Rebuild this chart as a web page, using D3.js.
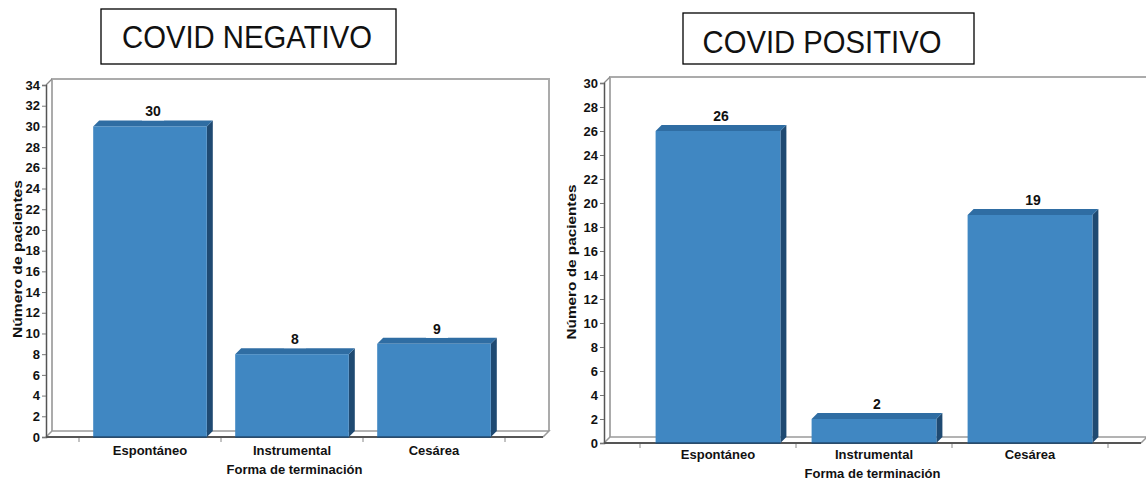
<!DOCTYPE html>
<html>
<head>
<meta charset="utf-8">
<script src="https://cdn.jsdelivr.net/npm/d3@7"></script>
<style>
  html, body { margin: 0; padding: 0; background: #fff; }
  svg { display: block; font-family: "Liberation Sans", Arial, sans-serif; }
</style>
</head>
<body>
<svg id="chart" width="1146" height="481"></svg>
<script>
// Delivery type by COVID status
const categories = ["Espontáneo", "Instrumental", "Cesárea"];
const negativeValues = [30, 8, 9];
const positiveValues = [26, 2, 19];
const negativeTickValues = d3.range(0, 35, 2);
const positiveTickValues = d3.range(0, 31, 2);
const negativeTitle = "COVID NEGATIVO";
const positiveTitle = "COVID POSITIVO";
const yAxisTitle = "Número de pacientes";
const xAxisTitle = "Forma de terminación";

const svg = d3.select("#chart");

const FRONT = "#4087c2", TOP = "#2f6da3", SIDE = "#1f4a72";
const DX = 6, DY = -6; // 3D depth offset

function titleBox(t) {
  const g = svg.append("g");
  g.append("rect")
    .attr("x", t.x).attr("y", t.y).attr("width", t.w).attr("height", t.h)
    .attr("fill", "#fff").attr("stroke", "#000").attr("stroke-width", 1.3);
  g.append("text")
    .attr("x", t.tx).attr("y", t.ty)
    .attr("text-anchor", "middle")
    .attr("font-size", 32)
    .attr("textLength", t.tl).attr("lengthAdjust", "spacingAndGlyphs")
    .attr("fill", "#111")
    .text(t.text);
}

function drawChart(c) {
  const g = svg.append("g");
  const y = d3.scaleLinear().domain([0, c.max]).range([c.y0, c.yTop]);
  const x = d3.scaleBand().domain(categories).range(c.band).paddingInner(0.2).paddingOuter(0.1);
  const yT = y(c.max);

  // back wall
  g.append("path")
    .attr("d", `M${c.x0 + DX},${c.y0 + DY} V${yT + DY} H${c.xEnd + DX} V${c.y0 + DY}`)
    .attr("fill", "none").attr("stroke", "#ababab").attr("stroke-width", 2);
  g.append("line")
    .attr("x1", c.x0).attr("y1", yT).attr("x2", c.x0 + DX).attr("y2", yT + DY)
    .attr("stroke", "#8a8a8a").attr("stroke-width", 1.2);

  // floor slab
  g.append("path")
    .attr("d", `M${c.x0},${c.y0} L${c.x0 + DX},${c.y0 + DY} H${c.xEnd + DX} L${c.xEnd},${c.y0}`)
    .attr("fill", "#fff").attr("stroke", "#9a9a9a").attr("stroke-width", 1.5);
  g.append("line")
    .attr("x1", c.x0).attr("y1", c.y0).attr("x2", c.xEnd).attr("y2", c.y0)
    .attr("stroke", "#555").attr("stroke-width", 2);

  // y axis
  const yAxis = d3.axisLeft(y).tickValues(c.ticks).tickSize(4).tickPadding(2);
  const ya = g.append("g").attr("transform", `translate(${c.x0},0)`).call(yAxis);
  ya.select(".domain").attr("stroke", "#555").attr("stroke-width", 1.5);
  ya.selectAll(".tick line").attr("stroke", "#777");
  ya.selectAll(".tick text")
    .attr("font-family", "Liberation Sans, Arial, sans-serif")
    .attr("font-size", 13).attr("font-weight", "bold").attr("fill", "#111");

  // category ticks under the floor
  const step = x.step();
  const bounds = d3.range(categories.length + 1).map(i => c.band[0] + i * step);
  g.selectAll(".ctick").data(bounds).join("line")
    .attr("x1", d => d).attr("x2", d => d)
    .attr("y1", c.y0 + 1).attr("y2", c.y0 + 5)
    .attr("stroke", "#888");

  // bars
  const bars = g.selectAll(".bar").data(c.values.map((v, i) => ({ v, cat: categories[i] }))).join("g");
  const bw = x.bandwidth();
  bars.append("path") // side face
    .attr("d", d => {
      const xr = x(d.cat) + bw, yv = y(d.v);
      return `M${xr},${yv} L${xr + DX},${yv + DY} V${c.y0 + DY} L${xr},${c.y0} Z`;
    })
    .attr("fill", SIDE);
  bars.append("path") // top face
    .attr("d", d => {
      const xl = x(d.cat), yv = y(d.v);
      return `M${xl},${yv} L${xl + DX},${yv + DY} H${xl + bw + DX} L${xl + bw},${yv} Z`;
    })
    .attr("fill", TOP);
  bars.append("rect") // front face
    .attr("x", d => x(d.cat)).attr("y", d => y(d.v))
    .attr("width", bw).attr("height", d => c.y0 - y(d.v))
    .attr("fill", FRONT);
  bars.append("line")
    .attr("x1", d => x(d.cat)).attr("x2", d => x(d.cat) + bw)
    .attr("y1", c.y0).attr("y2", c.y0)
    .attr("stroke", SIDE).attr("stroke-width", 1.5);

  // value labels
  bars.append("rect")
    .attr("x", d => x(d.cat) + bw / 2 + DX / 2 - 11)
    .attr("y", d => y(d.v) - 24)
    .attr("width", 22).attr("height", 18)
    .attr("fill", "#fff");
  bars.append("text")
    .attr("x", d => x(d.cat) + bw / 2 + DX / 2)
    .attr("y", d => y(d.v) - 10)
    .attr("text-anchor", "middle")
    .attr("font-size", 14).attr("font-weight", "bold").attr("fill", "#111")
    .text(d => d.v);

  // category labels
  g.selectAll(".clabel").data(categories).join("text")
    .attr("x", d => x(d) + bw / 2)
    .attr("y", c.cly)
    .attr("text-anchor", "middle")
    .attr("font-size", 13).attr("font-weight", "bold").attr("fill", "#111")
    .text(d => d);

  // axis titles
  g.append("text")
    .attr("x", (c.x0 + c.xEnd) / 2).attr("y", c.xty)
    .attr("text-anchor", "middle")
    .attr("font-size", 13).attr("font-weight", "bold").attr("fill", "#111")
    .text(xAxisTitle);
  g.append("text")
    .attr("transform", `translate(${c.ytx},${c.yty}) rotate(-90)`)
    .attr("text-anchor", "middle")
    .attr("font-size", 13).attr("font-weight", "bold").attr("fill", "#111")
    .attr("textLength", c.ytl).attr("lengthAdjust", "spacingAndGlyphs")
    .text(yAxisTitle);
}

drawChart({
  values: negativeValues, max: 34, ticks: negativeTickValues,
  x0: 46, xEnd: 543, y0: 437, yTop: 85, band: [79, 505],
  ytx: 22, yty: 259, ytl: 158, cly: 455, xty: 474
});
drawChart({
  values: positiveValues, max: 30, ticks: positiveTickValues,
  x0: 604, xEnd: 1141, y0: 443, yTop: 83, band: [640, 1108],
  ytx: 576, yty: 262, ytl: 155, cly: 459, xty: 478
});

titleBox({ x: 101, y: 9, w: 295, h: 55, tx: 247, ty: 48, tl: 250, text: negativeTitle });
titleBox({ x: 683, y: 13, w: 291, h: 51, tx: 822, ty: 53, tl: 239, text: positiveTitle });
</script>
</body>
</html>
